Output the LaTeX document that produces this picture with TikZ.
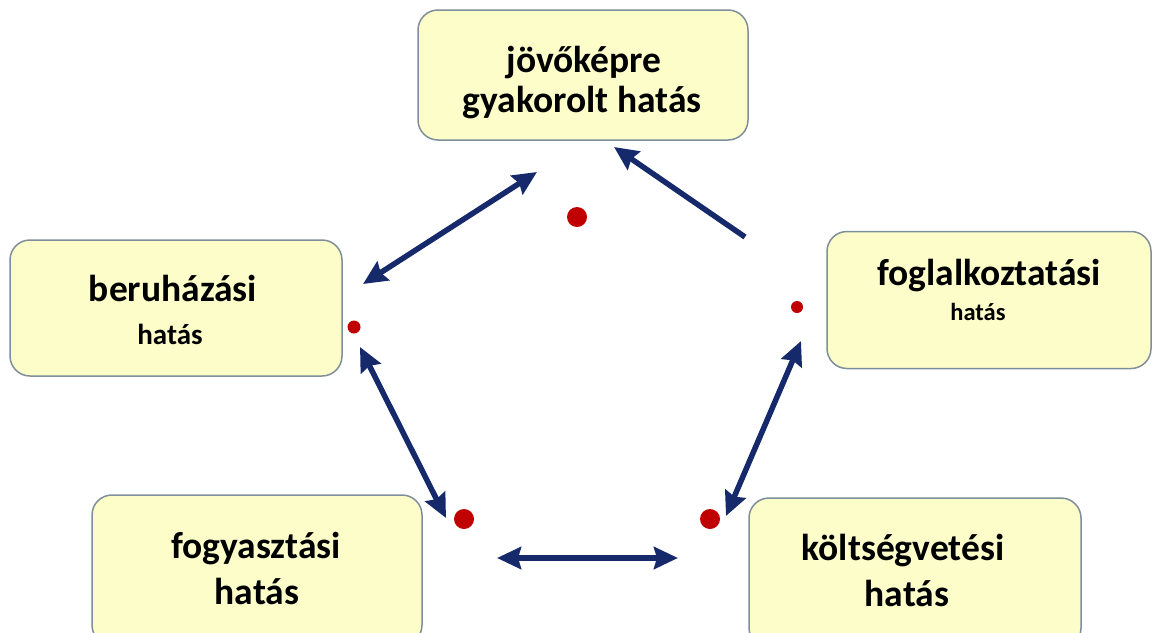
\documentclass[tikz,border=0pt]{standalone}
\usepackage{fontspec}
\setmainfont{Carlito}
\usetikzlibrary{arrows.meta}
\definecolor{boxfill}{HTML}{FDFDC9}
\definecolor{boxline}{HTML}{7F8F99}
\definecolor{navy}{HTML}{15296B}
\definecolor{dotred}{HTML}{C00000}
\tikzstyle{effect}=[rounded corners=20pt, draw=boxline, line width=1.5pt, fill=boxfill, inner sep=0pt]
\tikzstyle{big}=[font=\bfseries\fontsize{37.5}{40}\selectfont, inner sep=0pt]
\tikzstyle{small}=[font=\bfseries\fontsize{29}{32}\selectfont, inner sep=0pt]
\tikzstyle{tiny}=[font=\bfseries\fontsize{24.5}{27}\selectfont, inner sep=0pt]
\tikzstyle{link}=[navy, line width=5.5pt, {Stealth[length=24pt,width=22pt,inset=3pt]}-{Stealth[length=24pt,width=22pt,inset=3pt]}]
\tikzstyle{dot}=[circle, fill=dotred, inner sep=0pt]

\begin{document}
\begin{tikzpicture}[x=1pt, y=-1pt]
\useasboundingbox (0,0) rectangle (1153,632);

\node[effect, minimum width=330pt, minimum height=130pt] (future) at (583, 75) {};
\node[effect, minimum width=332pt, minimum height=136pt] (invest) at (176, 308) {};
\node[effect, minimum width=324pt, minimum height=137pt] (employ) at (989, 300) {};
\node[effect, minimum width=330pt, minimum height=150pt] (consume) at (257, 570) {};
\node[effect, minimum width=332pt, minimum height=150pt] (budget) at (915, 573) {};

\node[big] (futuret1) at (584, 63) {jövőképre};
\node[big] (futuret2) at (582, 103) {gyakorolt hatás};
\node[big] (investt1) at (173, 288) {beruházási};
\node[small] (investt2) at (170, 334) {hatás};
\node[big] (employt1) at (989, 276) {foglalkoztatási};
\node[tiny] (employt2) at (978, 312) {hatás};
\node[big] (consumet1) at (256, 549) {fogyasztási};
\node[big] (consumet2) at (257, 591) {hatás};
\node[big] (budgett1) at (903, 551) {költségvetési};
\node[big] (budgett2) at (907, 593) {hatás};

\coordinate (a1) at (745, 237);
\coordinate (b1) at (614, 147);
\coordinate (a2) at (363, 284);
\coordinate (b2) at (537, 172);
\coordinate (a3) at (360, 347);
\coordinate (b3) at (446, 518);
\coordinate (a4) at (497, 558);
\coordinate (b4) at (678, 558);
\coordinate (a5) at (726, 516);
\coordinate (b5) at (801, 341);

\draw[link, {Stealth[length=24pt,width=22pt,inset=3pt]}-] (b1) -- (a1);
\draw[link] (a2) -- (b2);
\draw[link] (a3) -- (b3);
\draw[link] (a4) -- (b4);
\draw[link] (a5) -- (b5);

\node[dot, minimum size=20pt] (d1) at (577, 217) {};
\node[dot, minimum size=13pt] (d2) at (354, 327) {};
\node[dot, minimum size=12pt] (d3) at (797, 307) {};
\node[dot, minimum size=20pt] (d4) at (464, 519) {};
\node[dot, minimum size=20pt] (d5) at (710, 519) {};

\end{tikzpicture}
\end{document}
